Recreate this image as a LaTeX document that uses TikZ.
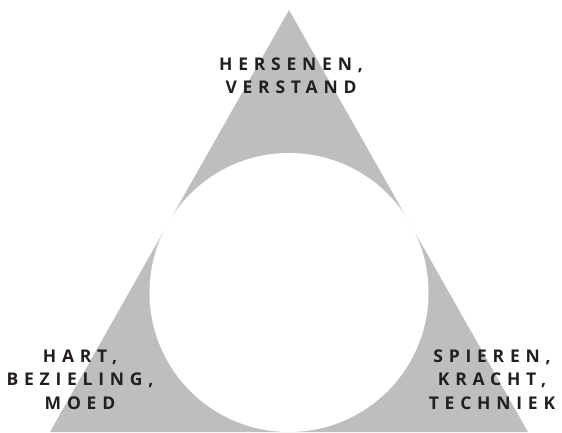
\documentclass[tikz,border=0pt]{standalone}
\usepackage{fontspec}
\newfontfamily\zonefont[LetterSpace=33]{Open Sans}
\usepackage{tikz}
\usetikzlibrary{positioning}
\definecolor{panelgray}{HTML}{BDBEC0}
\definecolor{ink}{HTML}{231F20}

\begin{document}
\begin{tikzpicture}[x=1pt, y=1pt,
    zone/.style={text=ink, align=center, anchor=base, inner sep=0pt,
                 font=\fontsize{17.5}{23.5}\selectfont\zonefont\bfseries}]
  \useasboundingbox (0,0) rectangle (562,432);
  % Triangle
  \coordinate (top) at (289,422);
  \coordinate (left) at (50,0);
  \coordinate (right) at (528,0);
  \fill[panelgray] (top) -- (left) -- (right) -- cycle;
  % Inner circle
  \node[circle, fill=white, inner sep=0pt, minimum size=279pt] (core) at (289,139.5) {};
  % Labels (base = last line)
  \node[zone] (head) at (291,338) {HERSENEN,\\VERSTAND};
  \node[zone] (heart) at (80,23) {HART,\\BEZIELING,\\MOED};
  \node[zone] (muscle) at (492,23) {SPIEREN,\\KRACHT,\\TECHNIEK};
\end{tikzpicture}
\end{document}
